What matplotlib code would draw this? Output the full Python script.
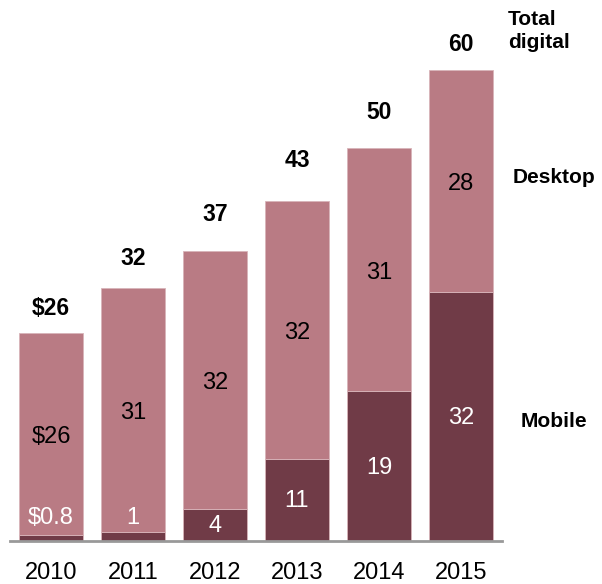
import matplotlib.pyplot as plt
import numpy as np

# Data (billions of dollars)
years = ['2010', '2011', '2012', '2013', '2014', '2015']
mobile = [0.8, 1.2, 4.1, 10.5, 19.1, 31.7]
totals = [26.5, 32.2, 37.0, 43.3, 50.0, 60.0]
desktop = [t - m for t, m in zip(totals, mobile)]
mobile_labels = ['$0.8', '1', '4', '11', '19', '32']
desktop_labels = ['$26', '31', '32', '32', '31', '28']
total_labels = ['$26', '32', '37', '43', '50', '60']

MOBILE_COLOR = '#703b47'
DESKTOP_COLOR = '#b97b84'
EDGE_COLOR = '#d8b4b9'
# gap between bar top and its total label (data units)
total_label_pad = [3.1, 3.8, 4.6, 5.2, 4.6, 3.3]

plt.rcParams['font.family'] = ['Liberation Sans', 'DejaVu Sans']

fig = plt.figure(figsize=(6.02, 5.84), dpi=100)
scale = 7.85  # px per unit
ax = fig.add_axes([10 / 602, 43 / 584, 492 / 602, 65 * scale / 584])

x = np.arange(len(years))
width = 0.77

ax.bar(x, mobile, width, color=MOBILE_COLOR, edgecolor=EDGE_COLOR, linewidth=0.6)
ax.bar(x, desktop, width, bottom=mobile, color=DESKTOP_COLOR,
       edgecolor=EDGE_COLOR, linewidth=0.6)

fs = 17
for i in range(len(years)):
    # tiny mobile segments get their label just above them
    if mobile[i] < 2:
        ym = 2.9
    else:
        ym = mobile[i] / 2 - 0.2
    ax.text(x[i], ym, mobile_labels[i], ha='center', va='center',
            color='white', fontsize=fs)
    ax.text(x[i], mobile[i] + desktop[i] / 2 - 0.4, desktop_labels[i],
            ha='center', va='center', color='black', fontsize=fs)
    ax.text(x[i], totals[i] + total_label_pad[i], total_labels[i],
            ha='center', va='center', color='black', fontsize=16.5,
            fontweight='bold')

# Series labels to the right of the last bar
last = len(years) - 1
ax.text(5.57, totals[last] + 5.0, 'Total\ndigital', ha='left', va='center',
        fontsize=15, fontweight='bold', linespacing=1.28, clip_on=False)
ax.text(6.13, mobile[last] + desktop[last] / 2 + 0.5, 'Desktop', ha='center',
        va='center', fontsize=15, fontweight='bold', clip_on=False)
ax.text(6.13, mobile[last] / 2 - 0.6, 'Mobile', ha='center', va='center',
        fontsize=15, fontweight='bold', clip_on=False)

ax.set_xlim(-0.5, 5.5)
ax.set_ylim(0, 65)
ax.set_xticks(x)
ax.set_xticklabels(years, fontsize=fs)
ax.tick_params(axis='x', length=0, pad=15)
ax.set_yticks([])

for side in ['top', 'right', 'left']:
    ax.spines[side].set_visible(False)
ax.spines['bottom'].set_color('#999999')
ax.spines['bottom'].set_linewidth(2)

fig.savefig('out.png', dpi=100)
